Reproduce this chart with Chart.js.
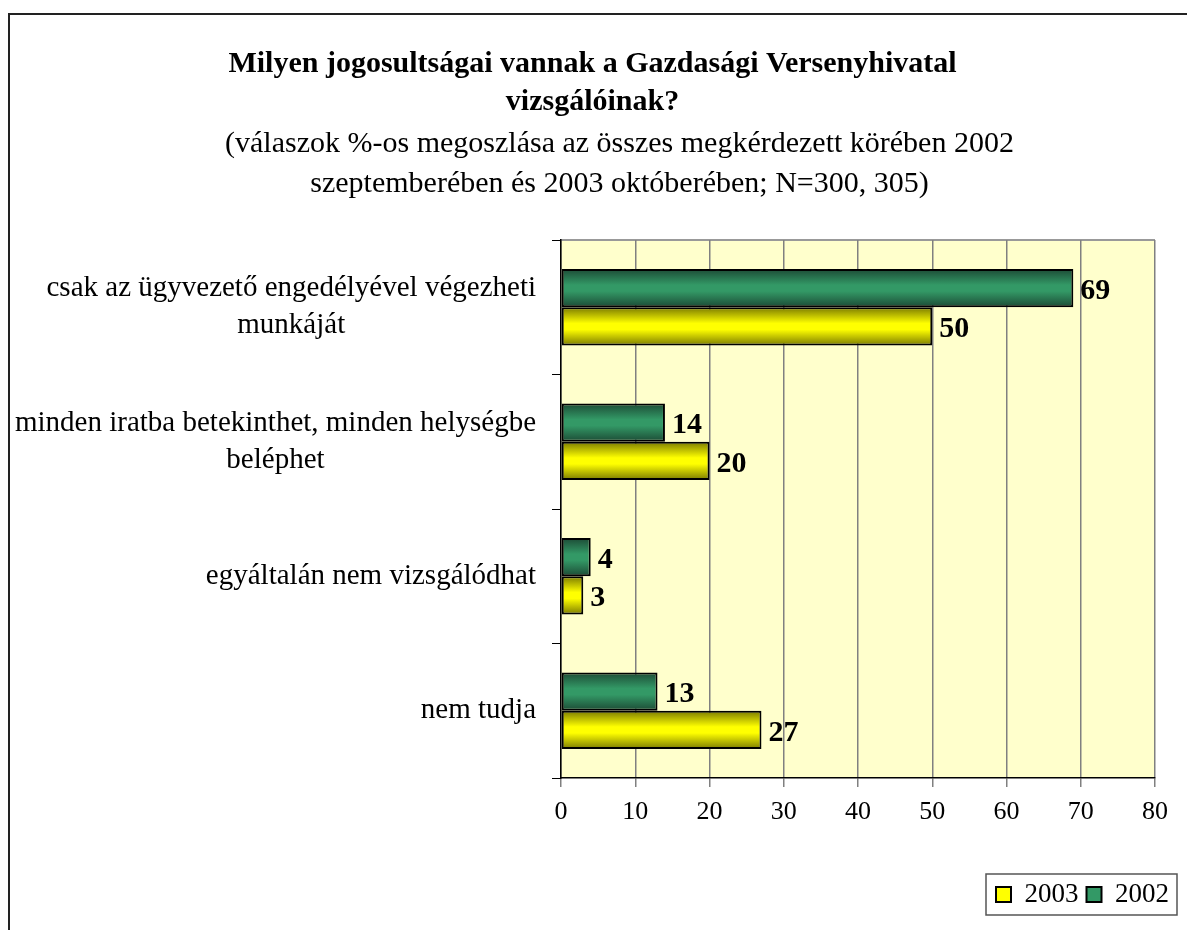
<!DOCTYPE html>
<html>
<head>
<meta charset="utf-8">
<script src="https://cdn.jsdelivr.net/npm/chart.js@4.4.1/dist/chart.umd.min.js"></script>
<style>
  html, body { margin: 0; padding: 0; background: #fff; }
  #wrap { width: 1187px; height: 930px; }
</style>
</head>
<body>
<div id="wrap"><canvas id="chart" width="1187" height="930"></canvas></div>
<script>
const categories = [
    ["csak az ügyvezető engedélyével végezheti", "munkáját"],
    ["minden iratba betekinthet, minden helységbe", "beléphet"],
    ["egyáltalán nem vizsgálódhat"],
    ["nem tudja"]
];
const values2002 = [69, 14, 4, 13];
const values2003 = [50, 20, 3, 27];
const xTicks = [0, 10, 20, 30, 40, 50, 60, 70, 80];
const subtitleLines = [
    "(válaszok %-os megoszlása az összes megkérdezett körében 2002",
    "szeptemberében és 2003 októberében; N=300, 305)"
];

const serif = "'Liberation Serif', 'Times New Roman', serif";

// bar fill: dark edges, bright middle
const shades = {
    "2002": ["#1c4a35", "#339966"],
    "2003": ["#7a7a00", "#ffff00"]
};

const barShading = {
    id: "barShading",
    beforeDraw(chart) {
        const { ctx, chartArea: a } = chart;
        ctx.save();
        ctx.fillStyle = "#ffffcc";
        ctx.fillRect(a.left, a.top, a.right - a.left, a.bottom - a.top);
        ctx.strokeStyle = "#999999";
        ctx.lineWidth = 2;
        ctx.beginPath();
        ctx.moveTo(a.left, a.top);
        ctx.lineTo(a.right, a.top);
        ctx.stroke();
        // outer frame
        ctx.strokeStyle = "#222";
        ctx.lineWidth = 2;
        ctx.strokeRect(9, 14, chart.width + 20, chart.height + 20);
        ctx.restore();
    },
    beforeDatasetsDraw(chart) {
        const ctx = chart.ctx;
        chart.data.datasets.forEach((ds, di) => {
            const [dark, light] = shades[ds.label];
            chart.getDatasetMeta(di).data.forEach((bar) => {
                const top = bar.y - bar.height / 2;
                const g = ctx.createLinearGradient(0, top, 0, top + bar.height);
                g.addColorStop(0, dark);
                g.addColorStop(0.42, light);
                g.addColorStop(0.58, light);
                g.addColorStop(1, dark);
                bar.options = Object.assign({}, bar.options, { backgroundColor: g });
            });
        });
    },
    afterDatasetsDraw(chart) {
        const ctx = chart.ctx;
        ctx.save();
        ctx.font = "bold 30px " + serif;
        ctx.fillStyle = "#000";
        ctx.textBaseline = "middle";
        ctx.textAlign = "left";
        chart.data.datasets.forEach((ds, di) => {
            chart.getDatasetMeta(di).data.forEach((bar, i) => {
                ctx.fillText(ds.data[i], bar.x + 7, bar.y + 3);
            });
        });
        ctx.restore();
    },
    afterDraw(chart) {
        const ctx = chart.ctx;
        const y = chart.scales.y;
        ctx.save();
        ctx.fillStyle = "#000";
        ctx.textBaseline = "middle";
        ctx.textAlign = "center";
        // subtitle, sits a bit right of the title
        ctx.font = "30px " + serif;
        subtitleLines.forEach((l, k) => {
            ctx.fillText(l, chart.width / 2 + 26, chart.chartArea.top - 96 + k * 40);
        });
        // category labels, lines centred in a right-aligned block
        ctx.font = "29px " + serif;
        const right = chart.chartArea.left - 25;
        const lh = 37;
        chart.data.labels.forEach((lines, i) => {
            const cy = y.getPixelForValue(i);
            const w = Math.max(...lines.map((l) => ctx.measureText(l).width));
            const cx = right - w / 2;
            lines.forEach((l, k) => {
                ctx.fillText(l, cx, cy + (k - (lines.length - 1) / 2) * lh);
            });
        });
        // legend frame
        const hb = chart.legend.legendHitBoxes;
        if (hb && hb.length) {
            const l = Math.min(...hb.map((b) => b.left)) - 10;
            const r = Math.max(...hb.map((b) => b.left + b.width)) + 8;
            const t = Math.min(...hb.map((b) => b.top)) - 7;
            const bt = Math.max(...hb.map((b) => b.top + b.height)) + 7;
            ctx.strokeStyle = "#555";
            ctx.lineWidth = 1.5;
            ctx.strokeRect(l, t, r - l, bt - t);
        }
        ctx.restore();
    }
};

new Chart(document.getElementById("chart"), {
    type: "bar",
    data: {
        labels: categories,
        datasets: [
            {
                label: "2002",
                data: values2002,
                backgroundColor: "#339966",
                borderColor: "#000",
                borderWidth: 2,
                borderSkipped: false
            },
            {
                label: "2003",
                data: values2003,
                backgroundColor: "#ffff00",
                borderColor: "#000",
                borderWidth: 2,
                borderSkipped: false
            }
        ]
    },
    options: {
        indexAxis: "y",
        responsive: false,
        animation: false,
        layout: { padding: { left: 8, right: 10, top: 45, bottom: 12 } },
        datasets: { bar: { categoryPercentage: 0.57, barPercentage: 1 } },
        scales: {
            x: {
                min: 0,
                max: 80,
                afterBuildTicks: (scale) => {
                    scale.ticks = xTicks.map((v) => ({ value: v }));
                },
                afterFit: (scale) => {
                    scale.height = 95;
                    scale.paddingRight = 32;
                },
                grid: { color: "#808080", lineWidth: 1.5, tickLength: 9 },
                border: { color: "#000", width: 1.5 },
                ticks: {
                    color: "#000",
                    font: { family: serif, size: 26 },
                    padding: 10
                }
            },
            y: {
                afterFit: (scale) => {
                    scale.width = 553;
                },
                grid: { drawOnChartArea: false, color: "#000", tickLength: 9, offset: true },
                border: { color: "#000", width: 1.5 },
                ticks: { display: false }
            }
        },
        plugins: {
            title: {
                display: true,
                text: ["Milyen jogosultságai vannak a Gazdasági Versenyhivatal", "vizsgálóinak?"],
                color: "#000",
                font: { family: serif, size: 30, weight: "bold", lineHeight: "38px" },
                // room below is kept for the two subtitle lines
                padding: { top: 0, bottom: 119 }
            },
            legend: {
                position: "bottom",
                align: "end",
                reverse: true,
                labels: {
                    color: "#000",
                    boxWidth: 15,
                    boxHeight: 15,
                    padding: 8,
                    font: { family: serif, size: 27 }
                }
            },
            tooltip: { enabled: false }
        }
    },
    plugins: [barShading]
});
</script>
</body>
</html>
